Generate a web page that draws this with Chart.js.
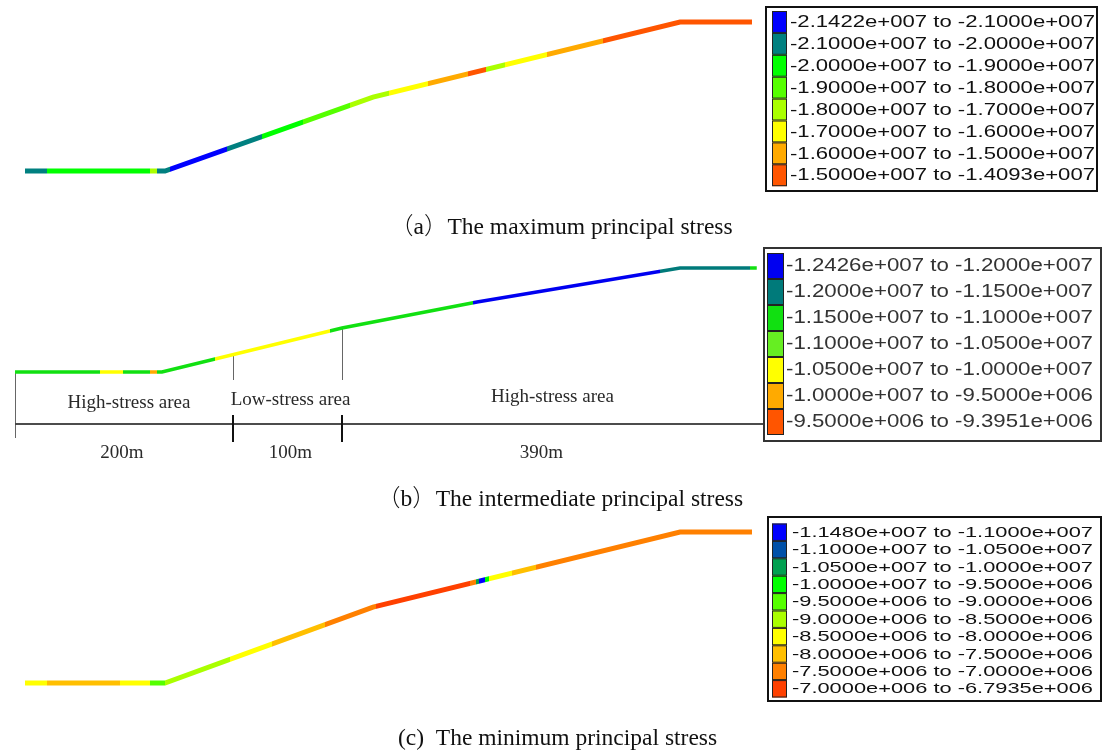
<!DOCTYPE html>
<html>
<head>
<meta charset="utf-8">
<script src="https://cdn.jsdelivr.net/npm/chart.js@4.4.0/dist/chart.umd.min.js"></script>
<style>
  html,body{margin:0;padding:0;background:#fff;}
  body{width:1104px;height:752px;position:relative;overflow:hidden;}
  canvas{position:absolute;left:0;top:0;}
  .cap{position:absolute;white-space:nowrap;
       font-family:'Liberation Serif','Times New Roman',serif;
       font-size:23.5px;line-height:23px;color:#111;}
  .cjk{font-family:'Noto Sans CJK SC','Noto Sans CJK JP',sans-serif;font-weight:300;}
</style>
</head>
<body>
<canvas id="pa" width="1104" height="752"></canvas>
<canvas id="pb" width="1104" height="752"></canvas>
<canvas id="pc" width="1104" height="752"></canvas>
<div class="cap" style="left:390px;top:213px;"><span class="cjk">（</span>a<span class="cjk">）</span>The maximum principal stress</div>
<div class="cap" style="left:377px;top:485px;"><span class="cjk">（</span>b<span class="cjk">）</span>The intermediate principal stress</div>
<div class="cap" style="left:398px;top:726px;">(c)&nbsp;&nbsp;The minimum principal stress</div>
<script>
// ---------------- DATA ----------------
// Panel (a): maximum principal stress along the slope profile
const aDist   = [0, 132.9, 330.3, 621.7, 690];          // distance along profile (m)
const aElev   = [0, 0, 70.2, 141.4, 141.4];             // relative elevation (m)
const aBreaks = [20.9, 118.6, 125.3, 137.6, 191.7, 225, 263.9, 308.5, 345.5, 382.5, 420.5, 437.5, 455.6, 495.4, 548.6];
const aBands  = [1, 2, 4, 1, 0, 1, 2, 3, 4, 5, 6, 7, 4, 5, 6, 7];
const aColors = ['#0000ff','#008080','#00ff00','#55ff00','#aaff00','#ffff00','#ffaa00','#ff5500'];
const aLabels = ['-2.1422e+007 to -2.1000e+007','-2.1000e+007 to -2.0000e+007','-2.0000e+007 to -1.9000e+007',
                 '-1.9000e+007 to -1.8000e+007','-1.8000e+007 to -1.7000e+007','-1.7000e+007 to -1.6000e+007',
                 '-1.6000e+007 to -1.5000e+007','-1.5000e+007 to -1.4093e+007'];

// Panel (b): intermediate principal stress
const bDist   = [0, 136.7, 304.2, 429.8, 618.6, 690];
const bElev   = [0, 0, 40.9, 65.1, 96.7, 96.7];
const bBreaks = [79.1, 100.5, 125.6, 132.1, 186, 293, 426, 600, 683.7];
const bBands  = [2, 4, 2, 5, 2, 4, 2, 0, 1, 2];
const bColors = ['#0000f0','#007a7a','#11e011','#66ee22','#ffff00','#ffaa00','#ff5500'];
const bLabels = ['-1.2426e+007 to -1.2000e+007','-1.2000e+007 to -1.1500e+007','-1.1500e+007 to -1.1000e+007',
                 '-1.1000e+007 to -1.0500e+007','-1.0500e+007 to -1.0000e+007','-1.0000e+007 to -9.5000e+006',
                 '-9.5000e+006 to -9.3951e+006'];
const bZoneBounds = [0, 202.8, 304.2, 690];
const bZoneLabels = ['High-stress area','Low-stress area','High-stress area'];
const bDimLabels  = ['200m','100m','390m'];

// Panel (c): minimum principal stress
const cDist   = [0, 132.9, 330.3, 621.7, 690];
const cElev   = [0, 0, 72.1, 143.3, 143.3];
const cBreaks = [20.9, 90.2, 118.6, 132.9, 194.6, 234.4, 284.7, 333.1, 422.4, 428.1, 430.9, 436.6, 440.4, 462.2, 485];
const cBands  = [6, 7, 6, 4, 5, 6, 7, 8, 9, 8, 2, 0, 3, 6, 7, 8];
const cColors = ['#0000ff','#0050a8','#00a050','#00ff00','#55ff00','#aaff00','#ffff00','#ffbf00','#ff8000','#ff4000'];
const cLabels = ['-1.1480e+007 to -1.1000e+007','-1.1000e+007 to -1.0500e+007','-1.0500e+007 to -1.0000e+007',
                 '-1.0000e+007 to -9.5000e+006','-9.5000e+006 to -9.0000e+006','-9.0000e+006 to -8.5000e+006',
                 '-8.5000e+006 to -8.0000e+006','-8.0000e+006 to -7.5000e+006','-7.5000e+006 to -7.0000e+006',
                 '-7.0000e+006 to -6.7935e+006'];

// ---------------- RENDERING ----------------
const W = 1104, H = 752;

function bandGradient(chart, p) {
  const xs = chart.scales.x;
  if (!xs || !chart.chartArea) return p.colors[p.bands[0]];
  const total = p.dist[p.dist.length - 1];
  const g = chart.ctx.createLinearGradient(xs.getPixelForValue(0), 0, xs.getPixelForValue(total), 0);
  for (let i = 0; i < p.bands.length; i++) {
    const from = i === 0 ? 0 : p.breaks[i - 1];
    const to = i === p.bands.length - 1 ? total : p.breaks[i];
    const col = p.colors[p.bands[i]];
    g.addColorStop(Math.min(1, from / total), col);
    g.addColorStop(Math.min(1, to / total), col);
  }
  return g;
}

function legendPlugin(p, L) {
  return {
    id: 'stressLegend',
    afterDraw(chart) {
      const ctx = chart.ctx;
      ctx.save();
      ctx.lineWidth = 2;
      ctx.strokeStyle = L.border;
      ctx.strokeRect(L.x + 1, L.y + 1, L.w - 2, L.h - 2);
      ctx.font = L.font + 'px "Liberation Sans", Arial, sans-serif';
      ctx.textBaseline = 'middle';
      ctx.textAlign = 'left';
      p.labels.forEach((lab, i) => {
        const top = L.rowTop + i * L.rowH;
        ctx.fillStyle = p.colors[i];
        ctx.fillRect(L.sx, top, L.sw, L.rowH);
        ctx.lineWidth = 1;
        ctx.strokeStyle = '#222';
        ctx.strokeRect(L.sx + 0.5, top + 0.5, L.sw - 1, L.rowH - 1);
        const m = ctx.measureText(lab).width;
        ctx.save();
        ctx.translate(L.tx, top + L.rowH / 2 + 0.5);
        ctx.scale(L.tw / m, 1);
        ctx.fillStyle = L.textColor;
        ctx.fillText(lab, 0, 0);
        ctx.restore();
      });
      ctx.restore();
    }
  };
}

function elevAt(p, d) {
  for (let i = 0; i < p.dist.length - 1; i++) {
    if (d >= p.dist[i] && d <= p.dist[i + 1]) {
      const t = (d - p.dist[i]) / (p.dist[i + 1] - p.dist[i]);
      return p.elev[i] + t * (p.elev[i + 1] - p.elev[i]);
    }
  }
  return p.elev[p.elev.length - 1];
}

const annotationPlugin = (p) => ({
  id: 'zones',
  beforeDatasetsDraw(chart) {
    const ctx = chart.ctx, xs = chart.scales.x, ys = chart.scales.y;
    const dimY = 424;
    ctx.save();
    ctx.strokeStyle = '#666';
    ctx.lineWidth = 1;
    const x0 = Math.round(xs.getPixelForValue(bZoneBounds[0])) + 0.5;
    ctx.beginPath();
    ctx.moveTo(x0, ys.getPixelForValue(elevAt(p, 0)));
    ctx.lineTo(x0, dimY + 14);
    ctx.stroke();
    for (let i = 1; i < bZoneBounds.length - 1; i++) {
      const x = Math.round(xs.getPixelForValue(bZoneBounds[i])) + 0.5;
      ctx.beginPath();
      ctx.moveTo(x, ys.getPixelForValue(elevAt(p, bZoneBounds[i])));
      ctx.lineTo(x, 380);
      ctx.stroke();
    }
    ctx.strokeStyle = '#111';
    ctx.lineWidth = 1.6;
    ctx.beginPath();
    ctx.moveTo(x0, dimY);
    ctx.lineTo(763, dimY);
    ctx.stroke();
    ctx.lineWidth = 2;
    for (let i = 1; i < bZoneBounds.length - 1; i++) {
      const x = Math.round(xs.getPixelForValue(bZoneBounds[i]));
      ctx.beginPath();
      ctx.moveTo(x, dimY - 9);
      ctx.lineTo(x, dimY + 18);
      ctx.stroke();
    }
    ctx.fillStyle = '#2a2a2a';
    ctx.font = '19px "Liberation Serif", "Times New Roman", serif';
    ctx.textAlign = 'center';
    ctx.textBaseline = 'middle';
    const zoneDy = [403, 400, 397];
    const zoneShift = [5, 3, 3];
    const dimShift = [-2, 3, -8];
    for (let i = 0; i < bZoneLabels.length; i++) {
      const mid = (xs.getPixelForValue(bZoneBounds[i]) + xs.getPixelForValue(bZoneBounds[i + 1])) / 2;
      ctx.fillText(bZoneLabels[i], mid + zoneShift[i], zoneDy[i]);
      ctx.fillText(bDimLabels[i], mid + dimShift[i], 453);
    }
    ctx.restore();
  }
});

function makePanel(id, p, geom, L, extra) {
  const {k, x0, y0, lw} = geom;
  const plugins = [legendPlugin(p, L)];
  if (extra) plugins.push(extra);
  return new Chart(document.getElementById(id), {
    type: 'line',
    data: {
      datasets: [{
        data: p.dist.map((d, i) => ({x: d, y: p.elev[i]})),
        borderColor: (c) => bandGradient(c.chart, p),
        borderWidth: lw,
        pointRadius: 0,
        fill: false,
        tension: 0,
        borderCapStyle: 'butt',
        borderJoinStyle: 'miter',
        clip: false
      }]
    },
    options: {
      responsive: false,
      animation: false,
      events: [],
      devicePixelRatio: 1,
      layout: {padding: 0},
      plugins: {legend: {display: false}, tooltip: {enabled: false}, title: {display: false}},
      scales: {
        x: {type: 'linear', display: false, min: -x0 / k, max: (W - x0) / k},
        y: {type: 'linear', display: false, min: (y0 - H) / k, max: y0 / k}
      }
    },
    plugins
  });
}

const pa = {dist: aDist, elev: aElev, breaks: aBreaks, bands: aBands, colors: aColors, labels: aLabels};
const pb = {dist: bDist, elev: bElev, breaks: bBreaks, bands: bBands, colors: bColors, labels: bLabels};
const pc = {dist: cDist, elev: cElev, breaks: cBreaks, bands: cBands, colors: cColors, labels: cLabels};

makePanel('pa', pa, {k: 1.0536, x0: 25, y0: 171, lw: 5},
  {x: 765, y: 6, w: 333, h: 186, sx: 772, sw: 15, rowTop: 11, rowH: 21.9, tx: 790, tw: 305, font: 17, border: '#111', textColor: '#111'});
makePanel('pb', pb, {k: 1.075, x0: 15, y0: 372, lw: 3.5},
  {x: 763, y: 247, w: 339, h: 195, sx: 767, sw: 17, rowTop: 253, rowH: 26, tx: 786, tw: 307, font: 18, border: '#333', textColor: '#333'},
  annotationPlugin(pb));
makePanel('pc', pc, {k: 1.0536, x0: 25, y0: 683, lw: 5},
  {x: 767, y: 516, w: 335, h: 186, sx: 772, sw: 15, rowTop: 523.5, rowH: 17.4, tx: 792, tw: 301, font: 14.5, border: '#111', textColor: '#111'});
</script>
</body>
</html>
